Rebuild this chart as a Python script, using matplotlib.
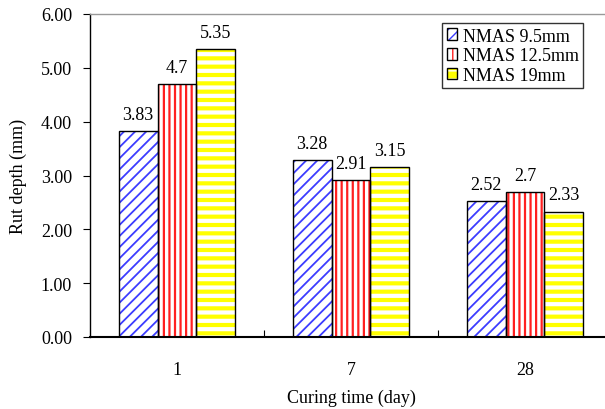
import numpy as np
import matplotlib.pyplot as plt
from matplotlib.patches import Patch

plt.rcParams['font.family'] = 'Liberation Serif'
plt.rcParams['font.size'] = 13

# data
days = ['1', '7', '28']
nmas_95 = [3.83, 3.28, 2.52]
nmas_125 = [4.7, 2.91, 2.70]
nmas_19 = [5.35, 3.15, 2.33]
value_labels = [['3.83', '3.28', '2.52'], ['4.7', '2.91', '2.7'], ['5.35', '3.15', '2.33']]
series_names = ['NMAS 9.5mm', 'NMAS 12.5mm', 'NMAS 19mm']

fig = plt.figure(figsize=(6.05, 4.10), dpi=100)
ax = fig.add_axes([90 / 605, 1 - 338 / 410, 522 / 605, (338 - 15) / 410])

x = np.arange(len(days))
w = 0.224
offsets = [-w, 0, w]
styles = [
    dict(face='white', hatch='///', hcolor='#3c3cff', hlw=1.3),
    dict(face='white', hatch='|||', hcolor='#ff2020', hlw=1.6),
    dict(face='yellow', hatch='--', hcolor='white', hlw=3.0),
]
all_vals = [nmas_95, nmas_125, nmas_19]

handles = []
for vals, off, st, labs, name in zip(all_vals, offsets, styles, value_labels, series_names):
    with plt.rc_context({'hatch.linewidth': st['hlw']}):
        ax.bar(x + off, vals, w, color=st['face'], edgecolor=st['hcolor'],
               hatch=st['hatch'], linewidth=0, zorder=2)
    ax.bar(x + off, vals, w, facecolor='none', edgecolor='black', linewidth=1.0, zorder=3)
    for xi, v, t in zip(x + off, vals, labs):
        ax.text(xi, v + 0.15, t, ha='center', va='bottom', fontsize=13)
    with plt.rc_context({'hatch.linewidth': 1.0}):
        inner = Patch(facecolor=st['face'], edgecolor=st['hcolor'], hatch=st['hatch'], linewidth=0)
    outer = Patch(facecolor='none', edgecolor='black', linewidth=1.0)
    handles.append((inner, outer))

ax.set_xlim(-0.5, 2.5)
ax.set_ylim(0, 6)
ax.set_yticks(np.arange(0, 6.01, 1))
ax.set_yticklabels([f'{v:.2f}' for v in np.arange(0, 6.01, 1)])
ax.tick_params(axis='y', direction='out', length=5, pad=8)

ax.set_xticks([0.5, 1.5])
ax.set_xticklabels([])
ax.tick_params(axis='x', which='major', direction='in', length=5)
ax.set_xticks(x, minor=True)
ax.set_xticklabels(days, minor=True)
ax.tick_params(axis='x', which='minor', length=0, pad=17)

ax.set_ylabel('Rut depth (mm)', labelpad=10)
ax.set_xlabel('Curing time (day)', labelpad=8)

ax.spines['right'].set_visible(False)
ax.spines['top'].set_color('#999999')
ax.spines['top'].set_linewidth(1.0)
ax.spines['bottom'].set_linewidth(1.5)
ax.spines['left'].set_linewidth(1.0)

leg = ax.legend(handles, series_names, loc='upper left', fancybox=False, edgecolor='black',
                handlelength=0.6, handleheight=0.6, handletextpad=0.3, labelspacing=0.15,
                borderpad=0.25, borderaxespad=0, fontsize=13)
leg.set_bbox_to_anchor((442 / 605, 1 - 24 / 410), transform=fig.transFigure)
leg.get_frame().set_linewidth(1.0)

fig.savefig('out.png', dpi=100)
